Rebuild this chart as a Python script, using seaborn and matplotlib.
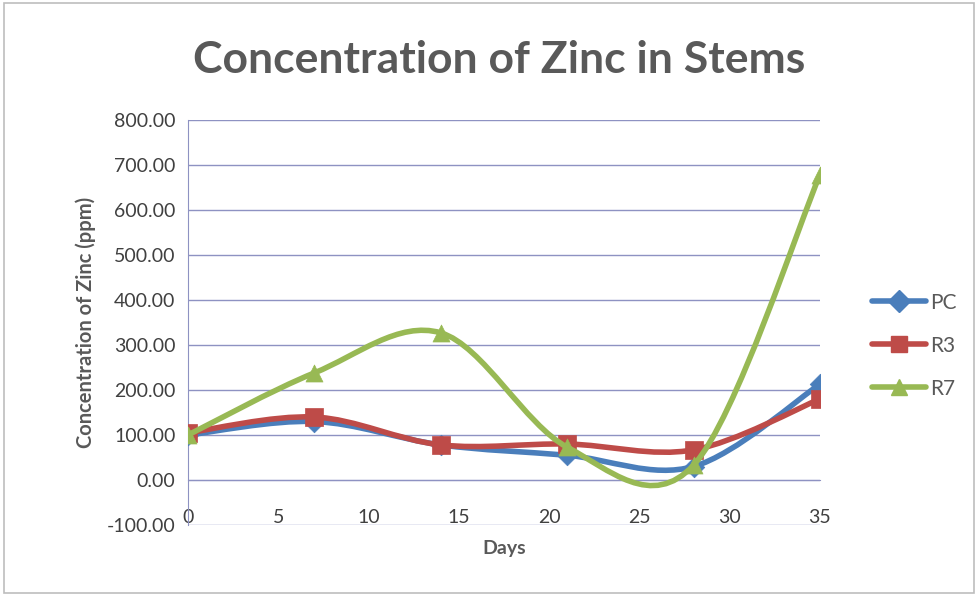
import numpy as np
import pandas as pd
import matplotlib
matplotlib.use("Agg")
import matplotlib.pyplot as plt
from matplotlib.path import Path
from matplotlib.patches import PathPatch, Rectangle
from matplotlib.lines import Line2D
import seaborn as sns

# -----------------------------
# Data
# -----------------------------
days = [0, 7, 14, 21, 28, 35]
pc = [100, 130, 78, 55, 30, 213]
r3 = [105, 140, 78, 80, 67, 180]
r7 = [100, 238, 327, 73, 33, 678]
series_names = ["PC", "R3", "R7"]

colores = {"PC": "#4a7ebb", "R3": "#be4b48", "R7": "#98b954"}
marcadores = {"PC": "D", "R3": "s", "R7": "^"}

df = pd.DataFrame({
    "Days": days * 3,
    "Zinc": pc + r3 + r7,
    "Serie": np.repeat(series_names, len(days)),
})

sns.set_style("white")
plt.rcParams["font.family"] = ["Lato", "DejaVu Sans"]
gris = "#595959"


def smooth_path(x, y):
    # Excel-like smoothed line: cubic Bezier segments (Catmull-Rom control points)
    pts = np.column_stack([x, y]).astype(float)
    ext = np.vstack([pts[0], pts, pts[-1]])
    verts = [tuple(pts[0])]
    codes = [Path.MOVETO]
    for i in range(1, len(ext) - 2):
        p0, p1, p2, p3 = ext[i - 1], ext[i], ext[i + 1], ext[i + 2]
        c1 = p1 + (p2 - p0) / 6
        c2 = p2 - (p3 - p1) / 6
        verts += [tuple(c1), tuple(c2), tuple(p2)]
        codes += [Path.CURVE4] * 3
    return Path(verts, codes)


fig = plt.figure(figsize=(9.78, 5.96), dpi=100)
ax = fig.add_axes([0.1922, 0.1191, 0.6462, 0.6796])

for k, nombre in enumerate(series_names):
    sub = df[df["Serie"] == nombre]
    ax.add_patch(PathPatch(smooth_path(sub["Days"], sub["Zinc"]), fill=False,
                           edgecolor=colores[nombre], lw=4, capstyle="round",
                           joinstyle="round", zorder=3 + 2 * k))
    sns.scatterplot(data=sub, x="Days", y="Zinc", ax=ax, color=colores[nombre],
                    marker=marcadores[nombre], s=150 if nombre != "PC" else 110,
                    edgecolor=colores[nombre], linewidth=0.5, legend=False,
                    zorder=4 + 2 * k)

ax.set_xlim(0, 35)
ax.set_ylim(-100, 800)
ax.set_yticks(np.arange(-100, 801, 100))
ax.set_xticks(np.arange(0, 36, 5))
ax.yaxis.set_major_formatter(matplotlib.ticker.FormatStrFormatter("%.2f"))
ax.grid(axis="y", color="#8e92c2", lw=1)
ax.grid(axis="x", visible=False)
ax.set_axisbelow(True)

for s in ["top", "right"]:
    ax.spines[s].set_visible(False)
ax.spines["bottom"].set_position(("data", 0))
ax.spines["bottom"].set_color("#8e92c2")
ax.spines["left"].set_color("#8e92c2")
ax.tick_params(axis="x", direction="out", length=4.5, color="#8e92c2", pad=16.5,
               labelsize=14, labelcolor="#404040")
ax.tick_params(axis="y", direction="out", length=5, color="#8e92c2", pad=4,
               labelsize=14, labelcolor="#404040")

ax.set_xlabel("Days", fontsize=14, fontweight="bold", color=gris, labelpad=10)
ax.set_ylabel("Concentration of Zinc (ppm)", fontsize=14.5, fontweight="bold",
              color=gris, labelpad=8)
fig.text(0.51, 0.9, "Concentration of Zinc in Stems", ha="center", va="center",
         fontsize=32, fontweight="bold", color=gris)

handles = [Line2D([], [], color=colores[n], lw=4, marker=marcadores[n],
                  markersize=11) for n in series_names]
fig.legend(handles, series_names, loc="center", bbox_to_anchor=(0.935, 0.42),
           frameon=False, fontsize=15, labelcolor=gris, handlelength=2.6,
           labelspacing=1.1, handletextpad=0.2)

fig.add_artist(Rectangle((0.004, 0.005), 0.992, 0.99, transform=fig.transFigure,
                         fill=False, edgecolor="#bdbdbd", lw=1.2))

fig.savefig("out.png", dpi=100)
